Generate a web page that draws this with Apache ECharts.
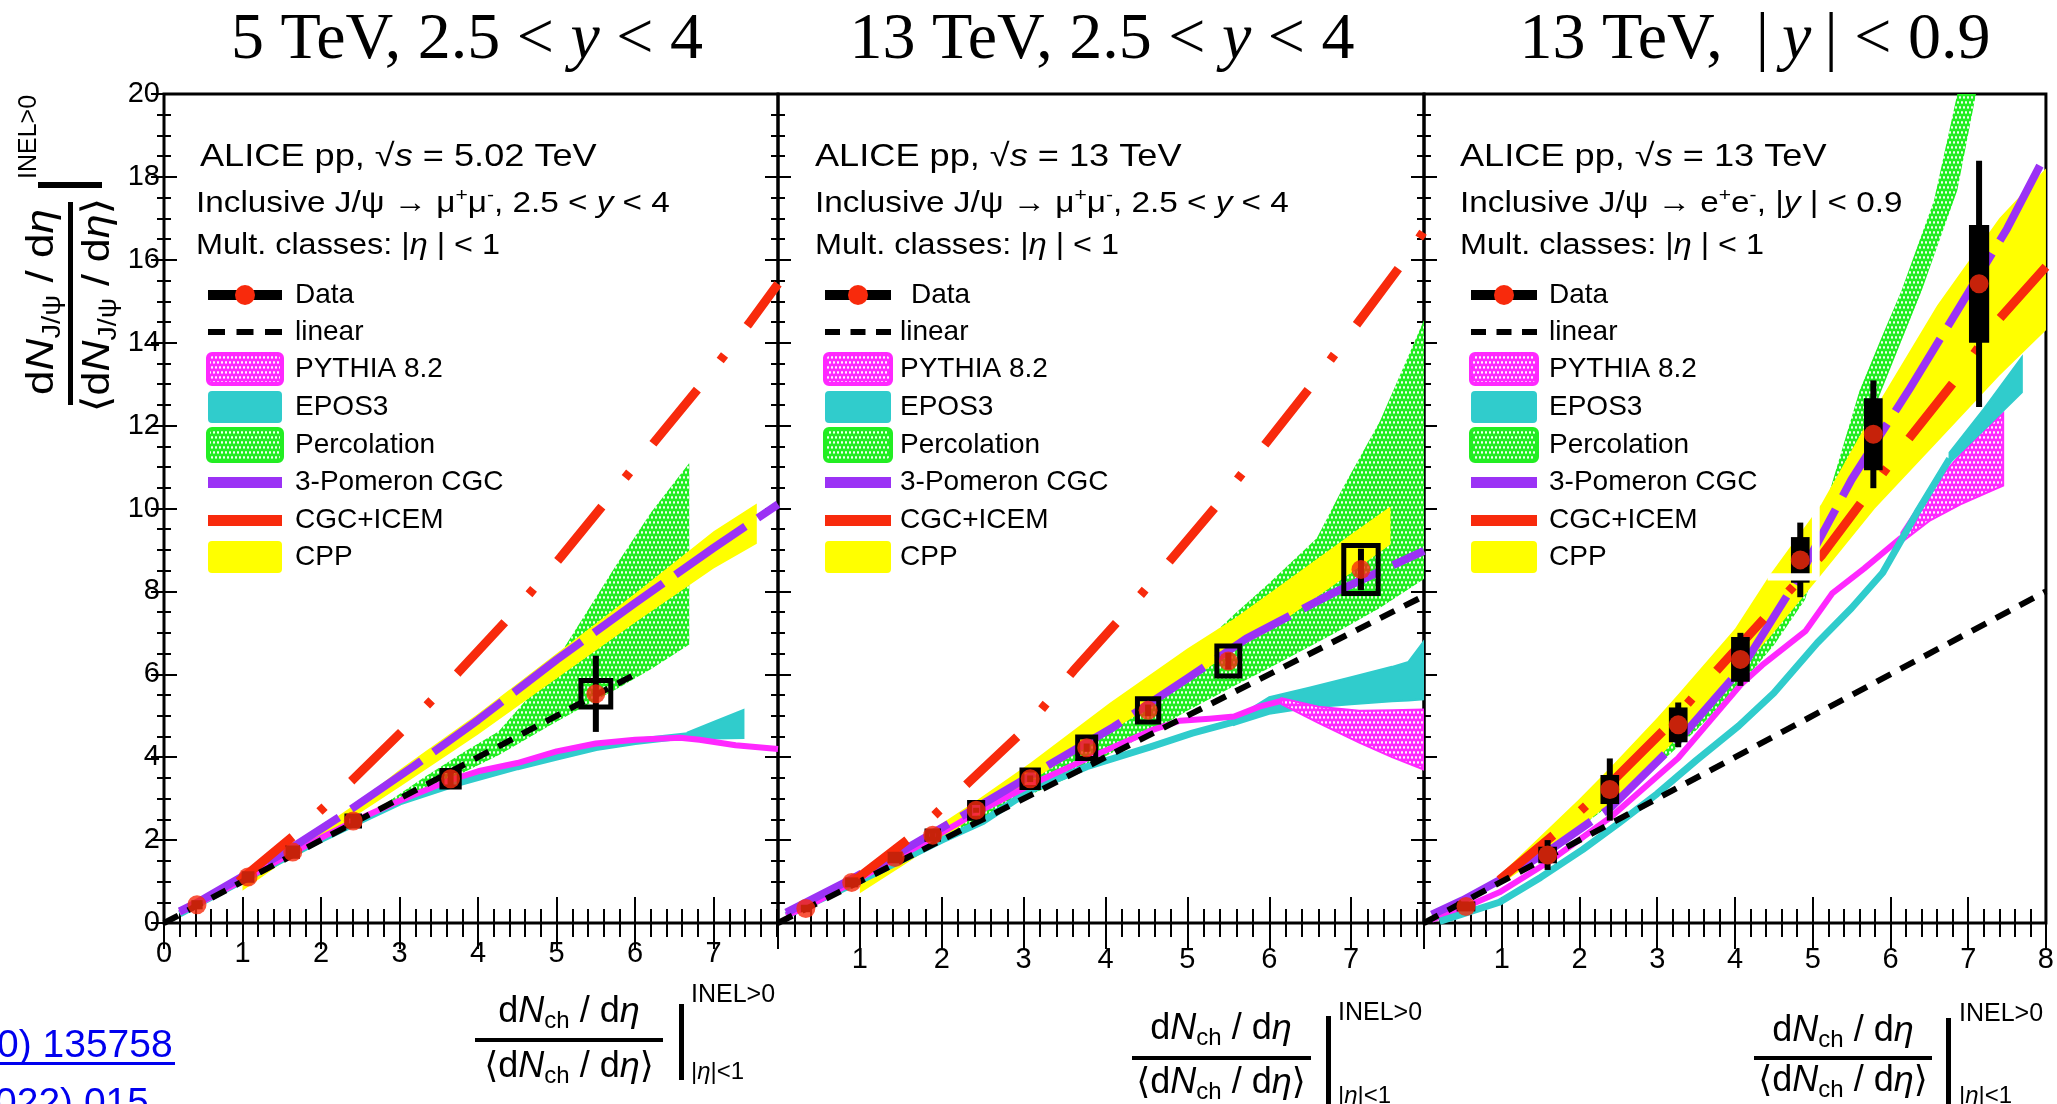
<!DOCTYPE html>
<html>
<head>
<meta charset="utf-8">
<title>J/ψ self-normalised yield vs multiplicity</title>
<script src="https://cdn.jsdelivr.net/npm/echarts@6/dist/echarts.min.js"></script>
<style>
  html, body { margin: 0; padding: 0; background: #fff; }
  #chart { width: 2057px; height: 1104px; }
</style>
</head>
<body>
<div id="chart"></div>
<script>
// ================= Panel A: pp 5.02 TeV, 2.5 < y < 4 =================
const fwd5DataX = [0.42, 1.07, 1.64, 2.41, 3.65, 5.50];
const fwd5DataY = [0.44, 1.11, 1.71, 2.46, 3.48, 5.53];
const fwd5Stat  = [0.04, 0.06, 0.08, 0.10, 0.20, 0.92];
const fwd5SysY  = [0.05, 0.08, 0.10, 0.12, 0.20, 0.32];
const fwd5SysX  = [0.04, 0.05, 0.06, 0.08, 0.11, 0.19];
const fwd5LinearX = [0, 6.0];
const fwd5LinearY = [0, 6.0];
const fwd5IcemX = [0.95, 1.70, 2.40, 3.05, 3.75, 4.40, 5.05, 5.60, 6.20, 6.85, 7.45, 7.82];
const fwd5IcemY = [1.00, 2.18, 3.45, 4.66, 6.05, 7.38, 8.82, 10.10, 11.50, 13.00, 14.46, 15.42];
const fwd5PomX = [0.20, 0.45, 1.00, 1.60, 2.27, 3.18, 4.00, 5.00, 6.00, 7.00, 7.82];
const fwd5PomY = [0.28, 0.52, 1.12, 1.78, 2.60, 3.78, 4.90, 6.35, 7.72, 9.05, 10.10];
const fwd5CppX  = [1.00, 1.50, 2.00, 2.50, 3.00, 4.00, 5.00, 6.00, 7.00, 7.55];
const fwd5CppLo = [0.78, 1.45, 2.06, 2.66, 3.28, 4.55, 5.90, 7.25, 8.55, 9.15];
const fwd5CppHi = [1.00, 1.66, 2.30, 2.95, 3.70, 5.05, 6.50, 7.95, 9.45, 10.12];
const fwd5PercX  = [2.85, 3.30, 3.80, 4.26, 4.60, 4.93, 5.40, 5.77, 6.20, 6.69];
const fwd5PercLo = [2.84, 3.20, 3.62, 4.05, 4.42, 4.78, 5.28, 5.65, 6.12, 6.72];
const fwd5PercHi = [2.92, 3.50, 4.10, 4.62, 5.35, 6.14, 7.55, 8.67, 9.90, 11.10];
const fwd5PythiaX = [0.20, 0.42, 1.07, 1.64, 2.41, 3.00, 3.65, 4.00, 4.50, 5.00, 5.50, 6.00, 6.57, 6.82, 7.28, 7.82];
const fwd5PythiaY = [0.25, 0.45, 1.10, 1.70, 2.45, 2.95, 3.45, 3.66, 3.86, 4.14, 4.33, 4.42, 4.47, 4.42, 4.29, 4.20];
const fwd5EposX = [0.20, 1.00, 2.00, 2.50, 3.00, 3.66, 4.50, 5.00, 5.50, 6.00, 6.67];
const fwd5EposY = [0.22, 1.03, 2.02, 2.47, 2.92, 3.33, 3.77, 4.00, 4.23, 4.38, 4.52];
const fwd5EposBandX  = [6.67, 7.00, 7.38];
const fwd5EposBandLo = [4.45, 4.45, 4.46];
const fwd5EposBandHi = [4.60, 4.85, 5.14];

// ================= Panel B: pp 13 TeV, 2.5 < y < 4 =================
const fwd13DataX = [0.34, 0.90, 1.43, 1.89, 2.42, 3.08, 3.77, 4.52, 5.50, 7.12];
const fwd13DataY = [0.35, 0.98, 1.58, 2.12, 2.72, 3.48, 4.23, 5.13, 6.32, 8.53];
const fwd13Stat  = [0.02, 0.03, 0.04, 0.05, 0.06, 0.08, 0.10, 0.14, 0.20, 0.50];
const fwd13SysY  = [0.03, 0.06, 0.08, 0.10, 0.19, 0.21, 0.26, 0.28, 0.36, 0.58];
const fwd13SysX  = [0.03, 0.05, 0.06, 0.07, 0.08, 0.10, 0.11, 0.13, 0.14, 0.21];
const fwd13LinearX = [0, 7.89];
const fwd13LinearY = [0, 7.89];
const fwd13IcemX = [0.90, 1.66, 2.35, 3.00, 3.61, 4.20, 4.81, 5.37, 5.97, 6.51, 7.09, 7.65, 7.89];
const fwd13IcemY = [0.97, 2.13, 3.43, 4.64, 6.09, 7.39, 8.79, 10.10, 11.60, 12.95, 14.50, 15.98, 16.70];
const fwd13PomX = [0.10, 0.90, 1.50, 2.42, 3.08, 4.10, 5.00, 5.72, 6.76, 7.89];
const fwd13PomY = [0.25, 1.06, 1.72, 2.78, 3.55, 4.73, 5.90, 6.86, 7.94, 8.98];
const fwd13CppX  = [1.00, 1.50, 2.00, 2.42, 3.08, 4.05, 5.00, 5.57, 6.00, 7.00, 7.48];
const fwd13CppLo = [0.72, 1.35, 2.00, 2.62, 3.42, 4.60, 5.80, 6.60, 7.05, 8.45, 9.13];
const fwd13CppHi = [1.00, 1.68, 2.40, 2.95, 3.86, 5.31, 6.62, 7.34, 7.95, 9.38, 10.05];
const fwd13PercX  = [1.70, 2.40, 3.00, 3.54, 4.00, 4.55, 5.00, 5.57, 6.00, 6.58, 6.90, 7.35, 7.89];
const fwd13PercLo = [1.72, 2.42, 3.02, 3.50, 4.02, 4.60, 5.12, 5.72, 6.15, 6.76, 7.10, 7.60, 8.30];
const fwd13PercHi = [1.85, 2.80, 3.55, 4.25, 4.85, 5.60, 6.38, 7.44, 8.20, 9.28, 10.50, 12.10, 14.55];
const fwd13PythiaX = [0.10, 0.34, 0.90, 1.43, 1.89, 2.42, 3.08, 3.77, 4.55, 4.91, 5.27, 5.57, 5.88, 6.15];
const fwd13PythiaY = [0.18, 0.38, 0.97, 1.55, 2.05, 2.66, 3.33, 3.96, 4.64, 4.88, 4.93, 4.98, 5.22, 5.36];
const fwd13PythiaBandX  = [6.15, 6.60, 7.10, 7.50, 7.89];
const fwd13PythiaBandLo = [5.28, 4.83, 4.35, 4.00, 3.70];
const fwd13PythiaBandHi = [5.42, 5.22, 5.12, 5.13, 5.15];
const fwd13EposX = [0.10, 1.00, 2.00, 2.50, 3.08, 3.77, 4.55, 5.06, 5.57];
const fwd13EposY = [0.18, 1.02, 2.00, 2.45, 3.20, 3.77, 4.25, 4.58, 4.85];
const fwd13EposBandX  = [5.57, 6.00, 6.50, 7.00, 7.50, 7.70, 7.89];
const fwd13EposBandLo = [4.78, 5.05, 5.20, 5.28, 5.35, 5.37, 5.40];
const fwd13EposBandHi = [4.92, 5.45, 5.68, 5.93, 6.18, 6.30, 6.80];

// ================= Panel C: pp 13 TeV, |y| < 0.9 =================
const mid13DataX = [0.54, 1.59, 2.39, 3.27, 4.07, 4.84, 5.78, 7.14];
const mid13DataY = [0.40, 1.64, 3.22, 4.78, 6.36, 8.76, 11.79, 15.42];
const mid13Stat  = [0.10, 0.36, 0.75, 0.54, 0.64, 0.90, 1.30, 2.97];
const mid13SysY  = [0.12, 0.20, 0.35, 0.42, 0.54, 0.55, 0.87, 1.42];
const mid13SysX  = [0.12, 0.12, 0.12, 0.12, 0.12, 0.12, 0.12, 0.13];
const mid13LinearX = [0, 8.0];
const mid13LinearY = [0, 8.0];
const mid13IcemX = [0.97, 1.69, 2.35, 3.12, 3.76, 4.40, 5.12, 5.63, 6.20, 6.81, 7.38, 8.00];
const mid13IcemY = [1.04, 2.16, 3.28, 4.72, 6.08, 7.40, 8.88, 10.16, 11.60, 13.04, 14.53, 15.83];
const mid13PomX = [0.10, 0.50, 1.00, 1.59, 2.40, 3.27, 4.09, 4.84, 5.50, 6.25, 7.00, 7.50, 8.00];
const mid13PomY = [0.20, 0.55, 1.06, 1.72, 2.78, 4.40, 6.16, 8.40, 10.70, 12.90, 15.20, 16.75, 18.55];
const mid13CppX  = [1.00, 1.50, 2.00, 2.40, 3.00, 3.27, 4.00, 4.45, 5.11, 5.80, 6.60, 7.40, 8.00];
const mid13CppLo = [0.95, 1.60, 2.30, 2.90, 3.95, 4.50, 5.95, 6.90, 8.40, 10.00, 11.60, 13.20, 14.30];
const mid13CppHi = [1.20, 2.10, 3.00, 3.76, 4.95, 5.52, 7.10, 8.40, 10.10, 12.40, 14.90, 17.00, 18.20];
const mid13PercX  = [1.50, 2.00, 2.50, 3.00, 3.50, 4.00, 4.50, 4.90, 5.20, 5.60, 5.88, 6.14, 6.40, 6.56, 6.86, 7.10];
const mid13PercLo = [1.60, 2.30, 3.00, 3.80, 4.65, 5.60, 6.70, 7.80, 9.50, 11.46, 12.83, 14.04, 15.25, 16.10, 17.68, 20.00];
const mid13PercHi = [1.75, 2.50, 3.25, 4.15, 5.10, 6.15, 7.45, 8.60, 10.30, 12.83, 14.10, 15.25, 16.60, 17.43, 20.00, 20.00];
const mid13PythiaX = [0.10, 0.50, 0.97, 1.59, 2.40, 3.27, 4.09, 4.35, 4.91, 5.25, 5.66, 6.14];
const mid13PythiaY = [0.08, 0.36, 0.74, 1.46, 2.55, 3.98, 5.78, 6.22, 7.05, 7.95, 8.55, 9.30];
const mid13PythiaBandX  = [6.14, 6.50, 6.90, 7.20, 7.45];
const mid13PythiaBandLo = [9.18, 9.70, 10.10, 10.35, 10.55];
const mid13PythiaBandHi = [9.42, 10.45, 11.30, 11.90, 12.30];
const mid13EposX = [0.20, 0.50, 0.97, 1.50, 2.04, 2.50, 3.00, 3.50, 4.05, 4.50, 5.06, 5.50, 5.90, 6.34, 6.76];
const mid13EposY = [0.04, 0.22, 0.50, 1.10, 1.77, 2.40, 3.12, 3.92, 4.76, 5.55, 6.76, 7.60, 8.45, 9.90, 11.20];
const mid13EposBandX  = [6.76, 7.20, 7.69];
const mid13EposBandLo = [11.10, 11.90, 12.80];
const mid13EposBandHi = [11.35, 12.40, 13.65];
// white gaps cut through the model bands: [x1, y1, x2, y2]
const mid13Gaps = [[4.42, 8.26, 5.00, 8.44], [4.99, 8.26, 5.09, 10.40]];

// ================= text content =================
const legendNames = ['Data', 'linear', 'PYTHIA 8.2', 'EPOS3', 'Percolation', '3-Pomeron CGC', 'CGC+ICEM', 'CPP'];
const panelTitles = [
  '{n|5 TeV, 2.5 < }{i|y}{n| < 4}',
  '{n|13 TeV, 2.5 < }{i|y}{n| < 4}',
  '{n|13 TeV,  |\u2009}{i|y}{n|\u2009| < 0.9}'
];
const headerLines = [
  ['{n|ALICE pp, }{n|√}{i|s}{n| = 5.02 TeV}',
   '{n|Inclusive J/ψ → μ}{sup|+}{n|μ}{sup|-}{n|, 2.5 < }{i|y}{n| < 4}',
   '{n|Mult. classes: |}{i|η}{n| | < 1}'],
  ['{n|ALICE pp, }{n|√}{i|s}{n| = 13 TeV}',
   '{n|Inclusive J/ψ → μ}{sup|+}{n|μ}{sup|-}{n|, 2.5 < }{i|y}{n| < 4}',
   '{n|Mult. classes: |}{i|η}{n| | < 1}'],
  ['{n|ALICE pp, }{n|√}{i|s}{n| = 13 TeV}',
   '{n|Inclusive J/ψ → e}{sup|+}{n|e}{sup|-}{n|, |}{i|y}{n| | < 0.9}',
   '{n|Mult. classes: |}{i|η}{n| | < 1}']
];
const xMaxes = [7.82, 7.89, 8.0];

// ================= styling =================
const SANS = '"Liberation Sans", Arial, "DejaVu Sans", sans-serif';
const SERIF = '"Liberation Serif", "Times New Roman", serif';
const RED = '#f82a0c';
const PURPLE = '#9b32f5';
const YELLOW = '#ffff00';
const CYAN = '#30cccc';
const MAGENTA = '#ff28ff';
const GREEN = '#22ee22';

function dotPattern(bg) {
  const c = document.createElement('canvas');
  c.width = 8; c.height = 10;
  const g = c.getContext('2d');
  g.fillStyle = bg; g.fillRect(0, 0, 8, 10);
  g.fillStyle = '#ffffff';
  [[2, 2.5], [6, 2.5], [0, 7.5], [4, 7.5], [8, 7.5]].forEach(p => {
    g.beginPath(); g.ellipse(p[0], p[1], 0.95, 1.4, 0, 0, Math.PI * 2); g.fill();
  });
  return { type: 'pattern', image: c, repeat: 'repeat' };
}
const greenFill = dotPattern(GREEN);
const magentaFill = dotPattern(MAGENTA);

function rich(size, family) {
  const f = family || SANS;
  return {
    n: { fontSize: size, fontFamily: f, lineHeight: Math.round(size * 1.2), fill: '#000' },
    i: { fontSize: size, fontFamily: f, fontStyle: 'italic', lineHeight: Math.round(size * 1.2), fill: '#000' },
    sup: { fontSize: Math.round(size * 0.62), fontFamily: f, verticalAlign: 'top', lineHeight: Math.round(size * 0.62), fill: '#000' },
    sub: { fontSize: Math.round(size * 0.66), fontFamily: f, verticalAlign: 'bottom', lineHeight: Math.round(size * 0.66), fill: '#000' }
  };
}

// ================= series =================
const series = [];
function addLine(gi, xs, ys, color, width, dash, z) {
  series.push({
    type: 'line', xAxisIndex: gi * 2, yAxisIndex: gi * 2, z: z, silent: true,
    data: xs.map((x, i) => [x, ys[i]]),
    symbol: 'none', showSymbol: false, clip: true,
    lineStyle: { color: color, width: width, type: dash, cap: 'butt', join: 'round' }
  });
}
function addBand(gi, xs, lo, hi, fill, stroke, z) {
  series.push({
    type: 'custom', xAxisIndex: gi * 2, yAxisIndex: gi * 2, z: z, silent: true, clip: true,
    data: [[xs[0], lo[0]]],
    renderItem: function (params, api) {
      const pts = [];
      for (let i = 0; i < xs.length; i++) pts.push(api.coord([xs[i], hi[i]]));
      for (let i = xs.length - 1; i >= 0; i--) pts.push(api.coord([xs[i], lo[i]]));
      return { type: 'polygon', shape: { points: pts },
               style: { fill: fill, stroke: stroke || null, lineWidth: stroke ? 2 : 0 } };
    }
  });
}
function addData(gi, xs, ys, stat, sysX, sysY, filledBoxes) {
  series.push({
    type: 'custom', xAxisIndex: gi * 2, yAxisIndex: gi * 2, z: 8, silent: true,
    data: xs.map((x, i) => [x, ys[i], sysX[i], sysY[i]]), encode: { x: 0, y: 1 },
    renderItem: function (params, api) {
      const x = api.value(0), y = api.value(1), sx = api.value(2), sy = api.value(3);
      const a = api.coord([x - sx, y + sy]), b = api.coord([x + sx, y - sy]);
      return { type: 'rect', shape: { x: a[0], y: a[1], width: b[0] - a[0], height: b[1] - a[1] },
               style: filledBoxes ? { fill: '#000' } : { fill: 'none', stroke: '#000', lineWidth: 5 } };
    }
  });
  series.push({
    type: 'custom', xAxisIndex: gi * 2, yAxisIndex: gi * 2, z: 9, silent: true,
    data: xs.map((x, i) => [x, ys[i], stat[i]]), encode: { x: 0, y: 1 },
    renderItem: function (params, api) {
      const x = api.value(0), y = api.value(1), s = api.value(2);
      const a = api.coord([x, y - s]), b = api.coord([x, y + s]);
      return { type: 'line', shape: { x1: a[0], y1: a[1], x2: b[0], y2: b[1] },
               style: { stroke: '#000', lineWidth: 6 } };
    }
  });
  series.push({
    type: 'scatter', xAxisIndex: gi * 2, yAxisIndex: gi * 2, z: 10, silent: true,
    data: xs.map((x, i) => [x, ys[i]]), symbol: 'circle', symbolSize: 19,
    itemStyle: { color: RED }
  });
}

const ICEM_DASH = [70, 37, 7, 37];
const POM_DASH = [85, 15];
const LIN_DASH = [16, 11];

// Panel A
addBand(0, fwd5PercX, fwd5PercLo, fwd5PercHi, greenFill, null, 1);
addBand(0, fwd5CppX, fwd5CppLo, fwd5CppHi, YELLOW, null, 2);
addLine(0, fwd5EposX, fwd5EposY, CYAN, 7, 'solid', 3);
addBand(0, fwd5EposBandX, fwd5EposBandLo, fwd5EposBandHi, CYAN, CYAN, 3);
addLine(0, fwd5PythiaX, fwd5PythiaY, MAGENTA, 6, 'solid', 4);
addLine(0, fwd5PomX, fwd5PomY, PURPLE, 8, POM_DASH, 5);
addLine(0, fwd5IcemX, fwd5IcemY, RED, 9, ICEM_DASH, 6);
addLine(0, fwd5LinearX, fwd5LinearY, '#000', 6, LIN_DASH, 7);
addData(0, fwd5DataX, fwd5DataY, fwd5Stat, fwd5SysX, fwd5SysY, false);

// Panel B
addBand(1, fwd13PercX, fwd13PercLo, fwd13PercHi, greenFill, null, 1);
addBand(1, fwd13CppX, fwd13CppLo, fwd13CppHi, YELLOW, null, 2);
addLine(1, fwd13EposX, fwd13EposY, CYAN, 7, 'solid', 3);
addBand(1, fwd13EposBandX, fwd13EposBandLo, fwd13EposBandHi, CYAN, CYAN, 3);
addLine(1, fwd13PythiaX, fwd13PythiaY, MAGENTA, 6, 'solid', 4);
addBand(1, fwd13PythiaBandX, fwd13PythiaBandLo, fwd13PythiaBandHi, magentaFill, MAGENTA, 4);
addLine(1, fwd13PomX, fwd13PomY, PURPLE, 8, POM_DASH, 5);
addLine(1, fwd13IcemX, fwd13IcemY, RED, 9, ICEM_DASH, 6);
addLine(1, fwd13LinearX, fwd13LinearY, '#000', 6, LIN_DASH, 7);
addData(1, fwd13DataX, fwd13DataY, fwd13Stat, fwd13SysX, fwd13SysY, false);

// Panel C
addBand(2, mid13PercX, mid13PercLo, mid13PercHi, greenFill, null, 1);
addBand(2, mid13CppX, mid13CppLo, mid13CppHi, YELLOW, null, 2);
addLine(2, mid13PythiaX, mid13PythiaY, MAGENTA, 6, 'solid', 3);
addBand(2, mid13PythiaBandX, mid13PythiaBandLo, mid13PythiaBandHi, magentaFill, MAGENTA, 3);
addLine(2, mid13EposX, mid13EposY, CYAN, 7, 'solid', 4);
addBand(2, mid13EposBandX, mid13EposBandLo, mid13EposBandHi, CYAN, CYAN, 4);
addLine(2, mid13PomX, mid13PomY, PURPLE, 8, POM_DASH, 5);
addLine(2, mid13IcemX, mid13IcemY, RED, 9, ICEM_DASH, 6);
addLine(2, mid13LinearX, mid13LinearY, '#000', 6, LIN_DASH, 7);
addData(2, mid13DataX, mid13DataY, mid13Stat, mid13SysX, mid13SysY, true);
series.push({
  type: 'custom', xAxisIndex: 4, yAxisIndex: 4, z: 11, silent: true,
  data: mid13Gaps, encode: { x: 0, y: 1 },
  renderItem: function (params, api) {
    const a = api.coord([api.value(0), api.value(3)]), b = api.coord([api.value(2), api.value(1)]);
    return { type: 'rect', shape: { x: a[0], y: a[1], width: b[0] - a[0], height: b[1] - a[1] },
             style: { fill: '#fff' } };
  }
});

// ================= grids & axes =================
const gridBoxes = [
  { left: 164, top: 94, width: 614, height: 829 },
  { left: 778, top: 94, width: 646, height: 829 },
  { left: 1424, top: 94, width: 622, height: 829 }
];
const xAxes = [], yAxes = [];
for (let gi = 0; gi < 3; gi++) {
  const tickX = { show: true, inside: true, length: 26, lineStyle: { color: '#000', width: 2 } };
  const minorX = { show: true, splitNumber: 5, length: 14, lineStyle: { color: '#000', width: 2 } };
  const tickY = { show: true, inside: true, length: 13, lineStyle: { color: '#000', width: 2 } };
  const minorY = { show: true, splitNumber: 4, length: 7, lineStyle: { color: '#000', width: 2 } };
  const baseX = { type: 'value', gridIndex: gi, min: 0, max: xMaxes[gi], interval: 1,
                  splitLine: { show: false }, axisLine: { show: false }, axisTick: tickX, minorTick: minorX };
  const baseY = { type: 'value', gridIndex: gi, min: 0, max: 20, interval: 2,
                  splitLine: { show: false }, axisLine: { show: false }, axisTick: tickY, minorTick: minorY };
  const first = gi === 0;
  xAxes.push(Object.assign({}, baseX, {
    position: 'bottom',
    axisLabel: { show: true, margin: first ? 16 : 22, fontSize: 29, fontFamily: SANS, color: '#000',
      formatter: function (v) { return (Math.abs(v - Math.round(v)) > 1e-6 || (!first && v === 0)) ? '' : String(Math.round(v)); } }
  }));
  xAxes.push(Object.assign({}, baseX, { position: 'top', axisLabel: { show: false } }));
  yAxes.push(Object.assign({}, baseY, {
    position: 'left',
    axisLabel: { show: first, margin: 4, fontSize: 29, fontFamily: SANS, color: '#000' }
  }));
  yAxes.push(Object.assign({}, baseY, { position: 'right', axisLabel: { show: false } }));
}

// ================= graphic: titles, legends, axis titles =================
const graphic = [];
function txt(x, y, text, size, opts) {
  const o = opts || {};
  graphic.push({
    type: 'text', x: x, y: y, rotation: o.rotation || 0, scaleX: o.scaleX || 1, silent: true, z: 100,
    style: {
      text: text, rich: rich(size, o.family), fill: '#000',
      fontSize: size, fontFamily: o.family || SANS,
      align: o.align || 'left', textAlign: o.align || 'left',
      verticalAlign: 'middle', textVerticalAlign: 'middle'
    }
  });
}
function rect(x, y, w, h, fill, extra) {
  graphic.push(Object.assign({ type: 'rect', silent: true, z: 100,
    shape: { x: x, y: y, width: w, height: h, r: (extra && extra.r) || 0 },
    style: { fill: fill, stroke: (extra && extra.stroke) || null, lineWidth: (extra && extra.lw) || 0 } }));
}

// panel titles
const titleCenters = [467, 1102, 1755];
titleCenters.forEach((cx, i) => txt(cx, 41, panelTitles[i], 66, { align: 'center', family: SERIF }));

// header text and legend in each panel
const legendRows = [295, 332, 369, 407, 445, 482, 520, 557];
const legendLayout = [
  { hx: [200, 196, 196], symX: 208, symW: 74, textX: 295, dataX: 295 },
  { hx: [815, 815, 815], symX: 825, symW: 66, textX: 900, dataX: 911 },
  { hx: [1460, 1460, 1460], symX: 1471, symW: 66, textX: 1549, dataX: 1549 }
];
const headerRows = [157, 204, 246];
const headerSizes = [32, 30, 30];
const headerStretch = [1.13, 1.11, 1.08];
legendLayout.forEach((L, pi) => {
  headerLines[pi].forEach((line, k) => txt(L.hx[k], headerRows[k], line, headerSizes[k], { scaleX: headerStretch[k] }));
  const sx = L.symX, sw = L.symW;
  // Data
  rect(sx, legendRows[0] - 5, sw, 10, '#000');
  graphic.push({ type: 'circle', silent: true, z: 101, shape: { cx: sx + sw / 2, cy: legendRows[0], r: 10 }, style: { fill: RED } });
  // linear
  const dw = Math.round(sw * 0.23);
  [0, (sw - dw) / 2, sw - dw].forEach(o => rect(sx + o, legendRows[1] - 3, dw, 6, '#000'));
  // PYTHIA
  rect(sx, legendRows[2] - 15, sw, 30, magentaFill, { r: 4, stroke: MAGENTA, lw: 4 });
  // EPOS3
  rect(sx, legendRows[3] - 16, sw, 32, CYAN, { r: 4 });
  // Percolation
  rect(sx, legendRows[4] - 16, sw, 32, greenFill, { r: 4, stroke: GREEN, lw: 4 });
  // 3-Pomeron CGC
  rect(sx, legendRows[5] - 5, sw, 11, PURPLE);
  // CGC+ICEM
  rect(sx, legendRows[6] - 5, sw, 11, RED);
  // CPP
  rect(sx, legendRows[7] - 16, sw, 32, YELLOW, { r: 4 });
  legendNames.forEach((name, k) => txt(k === 0 ? L.dataX : L.textX, legendRows[k], '{n|' + name + '}', 28));
});

// y-axis title (rotated fraction)
txt(42, 302, '{n|d}{i|N}{sub|J/ψ}{n| / d}{i|η}', 39, { align: 'center', rotation: Math.PI / 2, scaleX: 1.13 });
rect(68, 202, 5, 203, '#000');
txt(98, 305, '{n|⟨d}{i|N}{sub|J/ψ}{n| / d}{i|η}{n|⟩}', 39, { align: 'center', rotation: Math.PI / 2, scaleX: 1.1 });
rect(38, 182, 64, 6, '#000');
txt(29, 137, '{n|INEL>0}', 25, { align: 'center', rotation: Math.PI / 2 });

// x-axis titles
const xTitleLayout = [
  { cx: 569, numY: 1012, barY: 1038, barX: 475, barW: 188, denY: 1067, vx: 679, vy: 1004, vh: 76, lx: 691, supY: 995, subY: 1072 },
  { cx: 1221, numY: 1029, barY: 1056, barX: 1132, barW: 179, denY: 1083, vx: 1326, vy: 1016, vh: 88, lx: 1338, supY: 1013, subY: 1096 },
  { cx: 1843, numY: 1031, barY: 1056, barX: 1754, barW: 178, denY: 1081, vx: 1946, vy: 1018, vh: 86, lx: 1959, supY: 1014, subY: 1096 }
];
xTitleLayout.forEach(T => {
  txt(T.cx, T.numY, '{n|d}{i|N}{sub|ch}{n| / d}{i|η}', 36, { align: 'center' });
  rect(T.barX, T.barY, T.barW, 4, '#000');
  txt(T.cx, T.denY, '{n|⟨d}{i|N}{sub|ch}{n| / d}{i|η}{n|⟩}', 36, { align: 'center' });
  rect(T.vx, T.vy, 5, T.vh, '#000');
  txt(T.lx, T.supY, '{n|INEL>0}', 25);
  txt(T.lx, T.subY, '{n||}{i|η}{n||<1}', 24);
});

// reference links at the lower left
graphic.push({ type: 'text', x: -3, y: 1046, silent: true, z: 100,
  style: { text: '0) 135758', fill: '#0000ee', fontSize: 39, fontFamily: SANS, verticalAlign: 'middle', textVerticalAlign: 'middle' } });
rect(0, 1062, 175, 3, '#0000ee');
graphic.push({ type: 'text', x: -5, y: 1104, silent: true, z: 100,
  style: { text: '022) 015', fill: '#0000ee', fontSize: 39, fontFamily: SANS, verticalAlign: 'middle', textVerticalAlign: 'middle' } });

// ================= render =================
const chart = echarts.init(document.getElementById('chart'), null, { renderer: 'canvas', width: 2057, height: 1104 });
chart.setOption({
  animation: false,
  backgroundColor: '#ffffff',
  grid: gridBoxes.map(g => Object.assign({ show: true, borderColor: '#000', borderWidth: 3, backgroundColor: 'rgba(0,0,0,0)', containLabel: false }, g)),
  xAxis: xAxes,
  yAxis: yAxes,
  series: series,
  graphic: graphic
});
</script>
</body>
</html>
